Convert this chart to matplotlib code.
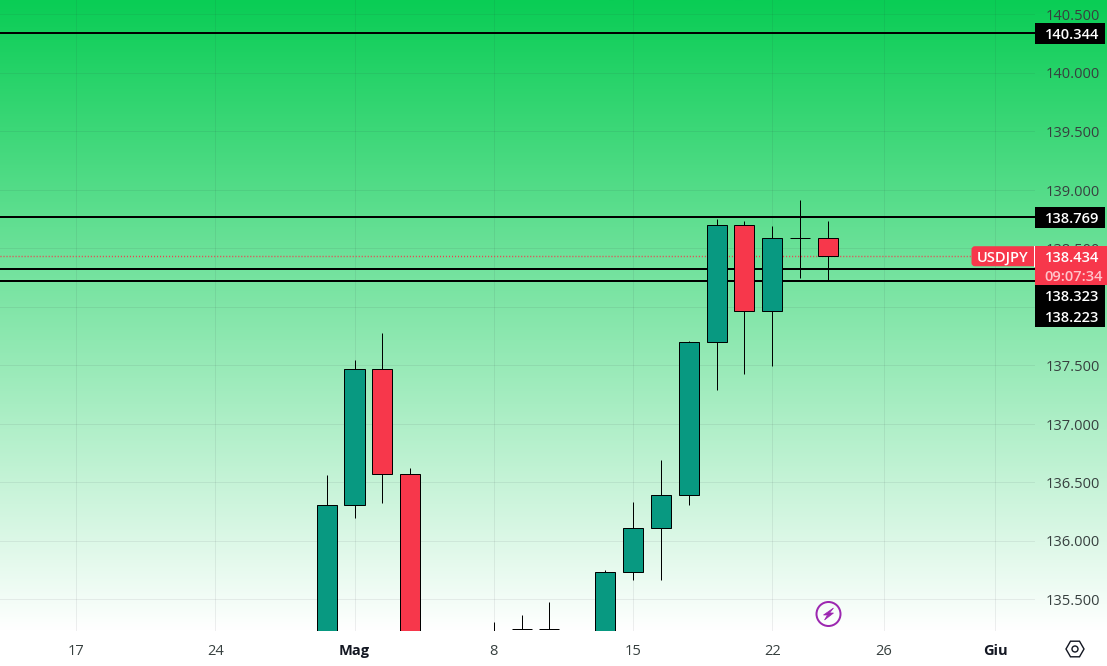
import matplotlib
matplotlib.use('Agg')
import matplotlib.pyplot as plt
import numpy as np
from matplotlib.colors import LinearSegmentedColormap
from matplotlib.patches import Circle, Polygon, Rectangle, RegularPolygon, FancyBboxPatch

plt.rcParams['font.family'] = ['Open Sans', 'DejaVu Sans']

# trading day index, counted from 17 Apr
days = [9, 10, 11, 12, 15, 16, 17, 19, 20, 21, 22, 23, 24, 25, 26, 27]
opens = [135.0, 136.307, 137.47, 136.572, 135.1, 135.245, 135.245, 135.0, 135.735, 136.11, 136.393, 137.70, 138.70, 137.965, 138.59, 138.59]
highs = [136.565, 137.545, 137.775, 136.625, 135.308, 135.365, 135.475, 135.75, 136.335, 136.695, 137.71, 138.755, 138.735, 138.695, 138.915, 138.735]
lows = [134.9, 136.195, 136.325, 134.9, 135.0, 135.245, 135.245, 134.9, 135.665, 135.665, 136.305, 137.29, 137.425, 137.495, 138.25, 138.225]
closes = [136.307, 137.47, 136.572, 135.0, 135.0, 135.245, 135.245, 135.735, 136.11, 136.393, 137.70, 138.70, 137.965, 138.59, 138.59, 138.434]

levels = [140.344, 138.769, 138.323, 138.223]
last_price = 138.434
countdown = '09:07:34'
symbol = 'USDJPY'

price_ticks = [135.5, 136.0, 136.5, 137.0, 137.5, 138.0, 138.5, 139.0, 139.5, 140.0, 140.5]
date_ticks = [0, 5, 10, 15, 20, 25, 29, 33]
date_labels = ['17', '24', 'Mag', '8', '15', '22', '26', 'Giu']
month_labels = ['Mag', 'Giu']

GREEN = '#089981'
RED = '#F7374B'
W, H = 1107, 666
PANE_W, PANE_H = 1035, 631
PX = 0.72  # one pixel in points at dpi 100
X0 = 76.0
DAY_W = 27.85
Y0 = 14.5
PRICE_H = 117.0
FONT = 10.5

fig = plt.figure(figsize=(W / 100, H / 100), dpi=100, facecolor='white')

# background gradient runs behind the price scale too
bg = fig.add_axes([0, 1 - PANE_H / H, 1, PANE_H / H], zorder=0)
cmap = LinearSegmentedColormap.from_list('fade', ['#0ACD55', '#FFFFFF'])
bg.imshow(np.linspace(0, 1, 256).reshape(-1, 1), cmap=cmap, aspect='auto')
bg.axis('off')

ax = fig.add_axes([0, 1 - PANE_H / H, PANE_W / W, PANE_H / H], zorder=1)
ax.patch.set_alpha(0)
ax.set_xlim(-X0 / DAY_W, (PANE_W - X0) / DAY_W)
ax.set_ylim(140.5 - (PANE_H - Y0) / PRICE_H, 140.5 + Y0 / PRICE_H)

for s in ax.spines.values():
    s.set_visible(False)

ax.yaxis.tick_right()
ax.set_yticks(price_ticks)
ax.set_yticklabels([f'{p:.3f}' for p in price_ticks])
ax.set_xticks(date_ticks)
ax.set_xticklabels(date_labels)
ax.tick_params(axis='y', length=0, pad=7.5, labelsize=FONT, labelcolor='#37403F')
ax.tick_params(axis='x', length=0, pad=9.5, labelsize=FONT, labelcolor='#37403F')
for lab in ax.get_xticklabels():
    if lab.get_text() in month_labels:
        lab.set_fontweight('bold')
        lab.set_color('#131722')
ax.grid(True, color='#2A2E39', alpha=0.08, linewidth=1 * PX)
ax.set_axisbelow(True)

# levels and last price sit under the candles
ax.hlines(levels, *ax.get_xlim(), color='black', linewidth=2 * PX, zorder=2, snap=True)
ax.hlines(last_price, -X0 / DAY_W, (971 - X0) / DAY_W, color=RED, linewidth=1.4 * PX,
          linestyles=(0, (0.72, 1.43)), zorder=2, snap=True)

# candles
for d, o, h, l, c in zip(days, opens, highs, lows, closes):
    col = GREEN if c >= o else RED
    ax.vlines(d, l, h, color='black', linewidth=1 * PX, zorder=3, snap=True)
    body = Rectangle((d - 0.36, min(o, c)), 0.72, abs(c - o), facecolor=col,
                     edgecolor='black', linewidth=1 * PX, zorder=4, snap=True)
    ax.add_patch(body)

# overlay in pixels for the price tags and icons
fig.canvas.draw()
px = fig.add_axes([0, 0, 1, 1], zorder=2)
px.set_xlim(0, W)
px.set_ylim(H, 0)
px.axis('off')


def price_y(p):
    return px.transData.inverted().transform(ax.transData.transform((0, p)))[1]


def price_tag(p, shift=0):
    y = price_y(p) + shift
    px.add_patch(Rectangle((1035, y - 10.5), 70, 21, facecolor='black', edgecolor='none'))
    px.text(1072, y, f'{p:.3f}', color='white', fontsize=FONT, fontweight='semibold',
            ha='center', va='center_baseline')


price_tag(levels[0], 1)
price_tag(levels[1], 0.5)
price_tag(levels[2], 26)
price_tag(levels[3], 35.5)

# last price tag with countdown
y = price_y(last_price)
px.add_patch(Rectangle((1035, y - 10.5), 72, 39, facecolor=RED, edgecolor='none'))
px.text(1072, y + 0.5, f'{last_price:.3f}', color='white', fontsize=FONT, fontweight='semibold',
        ha='center', va='center_baseline')
px.text(1074, y + 19, countdown, color='#FFC4CA', fontsize=FONT, fontweight='semibold',
        ha='center', va='center_baseline')
px.add_patch(FancyBboxPatch((973, y - 8.5), 62, 17, boxstyle='round,pad=0,rounding_size=2',
                            facecolor=RED, edgecolor=RED, linewidth=3 * PX))
px.add_patch(Rectangle((1034, y - 10.5), 1, 21, facecolor='white', edgecolor='none'))
px.text(1003, y + 0.5, symbol, color='white', fontsize=FONT, fontweight='semibold',
        ha='center', va='center_baseline')

# lightning badge
cx, cy = 828.5, 614
px.add_patch(Circle((cx, cy), 12, facecolor='none', edgecolor='#9C27B0', linewidth=2 * PX))
px.add_patch(Polygon([(cx + 5, cy - 6), (cx - 5, cy + 1), (cx - 1, cy + 1), (cx - 4, cy + 6),
                      (cx + 5, cy - 1), (cx + 1, cy - 1)], closed=True,
                     facecolor='#9C27B0', edgecolor='#9C27B0', linewidth=0.5))

# settings hexagon
px.add_patch(RegularPolygon((1075, 649), 6, radius=9, orientation=np.pi / 6,
                            facecolor='none', edgecolor='#131722', linewidth=1.4 * PX))
px.add_patch(Circle((1075, 649), 3, facecolor='none', edgecolor='#131722', linewidth=1.4 * PX))

fig.savefig('out.png', dpi=100, facecolor='white')
